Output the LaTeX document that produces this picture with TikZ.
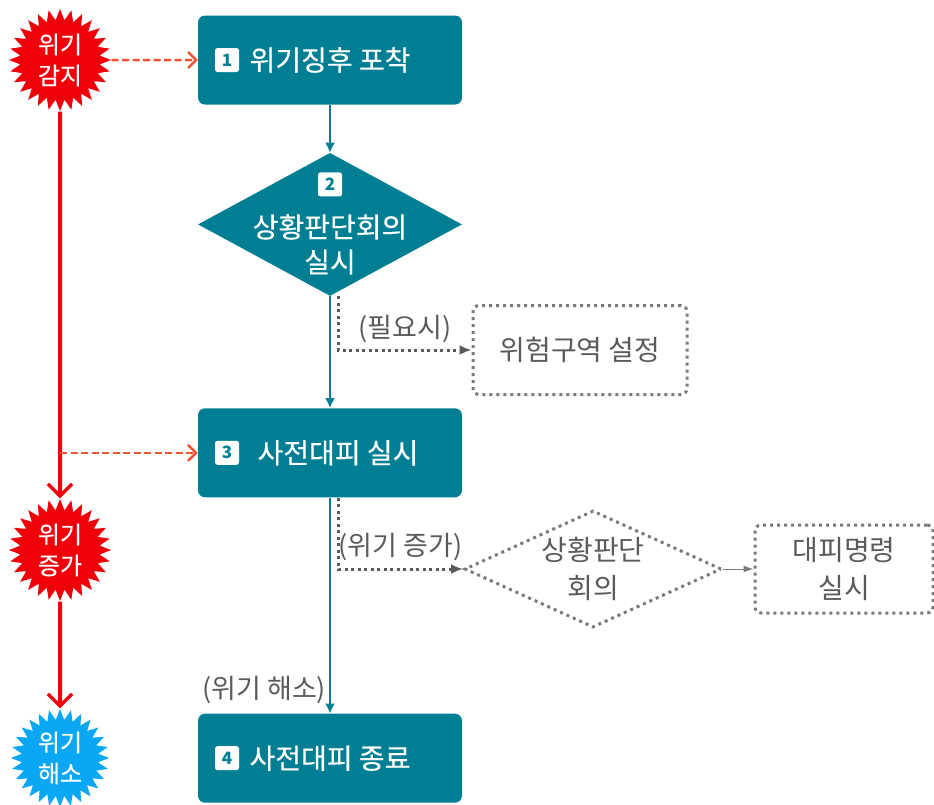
\documentclass[tikz,border=0pt]{standalone}
\usepackage{fontspec}
\setmainfont{Noto Sans CJK KR}
\newfontfamily\heavyfont[FakeBold=0.35]{Noto Sans CJK KR}
\usetikzlibrary{arrows.meta, positioning, calc, shapes.geometric}
\definecolor{stepteal}{HTML}{007F94}
\definecolor{alarmred}{HTML}{F00008}
\definecolor{alarmblue}{HTML}{0AA8F4}
\definecolor{dashred}{HTML}{EE5230}
\definecolor{optgray}{HTML}{7A7A7A}
\definecolor{labelgray}{HTML}{5A5A5A}

\begin{document}
\begin{tikzpicture}[
  x=1pt, y=-1pt,
  stepbox/.style = {fill=stepteal, rounded corners=7pt, minimum width=264pt, minimum height=89pt, align=center, text=white, font=\heavyfont\fontsize{28}{34}\selectfont, inner sep=0pt},
  stepdiamond/.style = {diamond, fill=stepteal, minimum width=264pt, minimum height=143pt, inner sep=0pt, aspect=1.85},
  steptext/.style = {text=white, align=center, font=\heavyfont\fontsize{28}{35}\selectfont, inner sep=0pt},
  badge/.style = {fill=white, rounded corners=2.5pt, minimum size=24pt, inner sep=0pt, text=stepteal, font=\bfseries\fontsize{17}{17}\selectfont},
  alarm/.style = {star, star points=28, star point ratio=1.28, minimum size=102pt, inner sep=0pt, fill=alarmred, text=white, align=center, font=\heavyfont\fontsize{24}{31}\selectfont},
  optbox/.style = {draw=optgray, line width=3pt, dash pattern=on 3pt off 4pt, rounded corners=6pt, align=center, text=labelgray, font=\fontsize{28}{38}\selectfont, inner sep=0pt},
  optdiamond/.style = {optbox, diamond, rounded corners=0pt, minimum width=257pt, minimum height=117pt, aspect=2.2},
  note/.style = {text=labelgray, font=\fontsize{27}{30}\selectfont, inner sep=0pt},
  arrow/.style = {line width=2pt, draw=stepteal, -{Latex[length=10pt, width=10pt]}},
  alarmarrow/.style = {line width=4pt, draw=alarmred, -{Straight Barb[length=12pt, width=24pt, line width=3.5pt]}},
  dasharrow/.style = {line width=2.5pt, draw=dashred, dash pattern=on 7pt off 3.5pt, -{Straight Barb[length=8pt, width=16pt, line width=2.5pt]}},
  optarrow/.style = {line width=3pt, draw=labelgray, dash pattern=on 3pt off 3.5pt, -{Latex[length=12pt, width=10pt]}},
  thinarrow/.style = {line width=1pt, draw=optgray, -{Latex[length=10pt, width=7pt]}}
]

  \useasboundingbox (0,0) rectangle (934,804);

  % Steps
  \node[stepbox] (sign) at (330,60) {위기징후 포착};
  \node[stepdiamond, below=48pt of sign] (meeting) {};
  \node[stepbox, below=112pt of meeting] (prep) {\hspace*{16pt}사전대피 실시};
  \node[stepbox, below=216pt of prep] (finish) {사전대피 종료};

  % Text and badge of the diamond
  \node[steptext] (meetingtext) at ([yshift=-20pt]meeting.center) {상황판단회의\\실시};
  \node[badge] (badgetwo) at ([yshift=40pt]meeting.center) {2};

  % Badges of the boxes
  \node[badge, right=17pt of sign.west] (badgeone) {1};
  \node[badge, right=17pt of prep.west] (badgethree) {3};
  \node[badge, right=17pt of finish.west] (badgefour) {4};

  % Alarm stages
  \node[alarm] (detect) at (60,60) {위기\\감지};
  \node[alarm] (rise) at (60,550) {위기\\증가};
  \node[alarm, fill=alarmblue, minimum size=98pt] (relief) at (60,758) {위기\\해소};

  % Optional steps
  \node[optbox, minimum width=214pt, minimum height=89pt] (zone) at (580,350) {위험구역 설정};
  \node[optdiamond] (again) at (593,569) {상황판단\\회의};
  \node[optbox, minimum width=178pt, minimum height=88pt] (order) at (844,569) {대피명령\\실시};

  % Main flow
  \draw[arrow] (sign) -- (meeting);
  \draw[arrow] (meeting) -- (prep);
  \draw[arrow] (prep) -- node[note, pos=0.89, left=3pt] {(위기 해소)} (finish);

  % Alarm flow
  \draw[alarmarrow] (detect) -- (rise);
  \draw[alarmarrow] (rise) -- (relief);

  % Alarm signals to the steps
  \coordinate (split) at (detect.south |- prep.west);
  \draw[dasharrow] (detect) -- (sign);
  \draw[dasharrow] (split) -- (prep);

  % Optional branches
  \draw[optarrow] ([xshift=8pt]meeting.south) |- node[note, pos=0.75, above=6pt] {(필요시)} (zone.west);
  \draw[optarrow] ([xshift=8pt]prep.south) |- node[note, pos=0.75, above=7pt] {(위기 증가)} (again.west);
  \draw[thinarrow] (again) -- (order);

\end{tikzpicture}
\end{document}
